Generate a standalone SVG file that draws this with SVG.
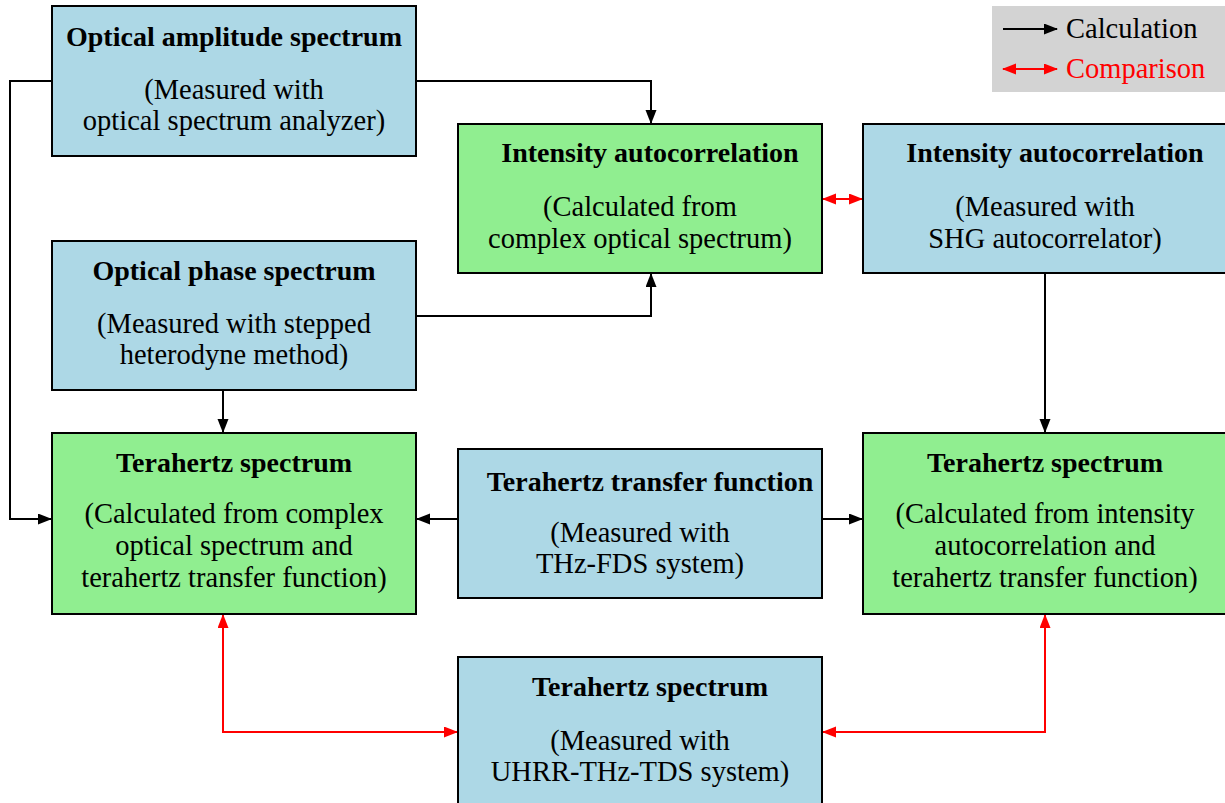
<svg xmlns="http://www.w3.org/2000/svg" width="1225" height="803" viewBox="0 0 1225 803">
<style>
.box{stroke:#000;stroke-width:2}
.blue{fill:#ADD8E6}
.green{fill:#90EE90}
.t{font-family:"Liberation Serif",serif;font-weight:bold;font-size:28px;fill:#000;text-anchor:middle}
.b{font-family:"Liberation Serif",serif;font-size:28.5px;fill:#000;text-anchor:middle}
.calc{fill:none;stroke:#000;stroke-width:2;marker-end:url(#ab)}
.cmp{fill:none;stroke:#F00;stroke-width:2;marker-start:url(#ar);marker-end:url(#ar)}
</style>
<defs>
<marker id="ab" markerUnits="userSpaceOnUse" markerWidth="15" markerHeight="12" refX="13" refY="5.5" orient="auto-start-reverse"><path d="M0,0 L14,5.5 L0,11 z" fill="#000"/></marker>
<marker id="ar" markerUnits="userSpaceOnUse" markerWidth="15" markerHeight="12" refX="13" refY="5.5" orient="auto-start-reverse"><path d="M0,0 L14,5.5 L0,11 z" fill="#F00"/></marker>
</defs>
<rect width="1225" height="803" fill="#fff"/>
<g id="connectors">
<path class="calc" d="M416,81 H651 V123"/>
<path class="calc" d="M52,81 H10 V519 H51"/>
<path class="calc" d="M416,316 H651 V274"/>
<path class="calc" d="M223,390 V432"/>
<path class="calc" d="M1045,273 V432"/>
<path class="calc" d="M458,519 H417"/>
<path class="calc" d="M822,519 H862"/>
<path class="cmp" d="M823,199 H862"/>
<path class="cmp" d="M223,615 V732 H457"/>
<path class="cmp" d="M1045,615 V732 H823"/>
</g>
<g id="legend">
<rect x="992" y="6" width="233" height="86" fill="#D3D3D3"/>
<path class="calc" d="M1003,29 H1057"/>
<text x="1066" y="38" style="font-family:'Liberation Serif',serif;font-size:28.5px" fill="#000">Calculation</text>
<path class="cmp" d="M1003,69 H1057"/>
<text x="1066" y="78" style="font-family:'Liberation Serif',serif;font-size:28.5px" fill="#F00">Comparison</text>
</g>
<g id="n1">
<rect class="box blue" x="52" y="6" width="364" height="150"/>
<text class="t" x="234" y="46">Optical amplitude spectrum</text>
<text class="b" x="234" y="99">(Measured with</text>
<text class="b" x="234" y="130">optical spectrum analyzer)</text>
</g>
<g id="n2">
<rect class="box green" x="458" y="124" width="364" height="149"/>
<text class="t" x="650" y="162">Intensity autocorrelation</text>
<text class="b" x="640" y="216">(Calculated from</text>
<text class="b" x="640" y="248">complex optical spectrum)</text>
</g>
<g id="n3">
<rect class="box blue" x="863" y="124" width="364" height="149"/>
<text class="t" x="1055" y="162">Intensity autocorrelation</text>
<text class="b" x="1045" y="216">(Measured with</text>
<text class="b" x="1045" y="248">SHG autocorrelator)</text>
</g>
<g id="n4">
<rect class="box blue" x="52" y="241" width="364" height="149"/>
<text class="t" x="234" y="280">Optical phase spectrum</text>
<text class="b" x="234" y="333">(Measured with stepped</text>
<text class="b" x="234" y="364">heterodyne method)</text>
</g>
<g id="n5">
<rect class="box green" x="52" y="433" width="364" height="181"/>
<text class="t" x="234" y="472">Terahertz spectrum</text>
<text class="b" x="234" y="523">(Calculated from complex</text>
<text class="b" x="234" y="555">optical spectrum and</text>
<text class="b" x="234" y="587">terahertz transfer function)</text>
</g>
<g id="n6">
<rect class="box blue" x="458" y="449" width="364" height="149"/>
<text class="t" x="650" y="491">Terahertz transfer function</text>
<text class="b" x="640" y="542">(Measured with</text>
<text class="b" x="640" y="573">THz-FDS system)</text>
</g>
<g id="n7">
<rect class="box green" x="863" y="433" width="364" height="181"/>
<text class="t" x="1045" y="472">Terahertz spectrum</text>
<text class="b" x="1045" y="523">(Calculated from intensity</text>
<text class="b" x="1045" y="555">autocorrelation and</text>
<text class="b" x="1045" y="587">terahertz transfer function)</text>
</g>
<g id="n8">
<rect class="box blue" x="458" y="657" width="364" height="149"/>
<text class="t" x="650" y="696">Terahertz spectrum</text>
<text class="b" x="640" y="750">(Measured with</text>
<text class="b" x="640" y="781">UHRR-THz-TDS system)</text>
</g>
</svg>
